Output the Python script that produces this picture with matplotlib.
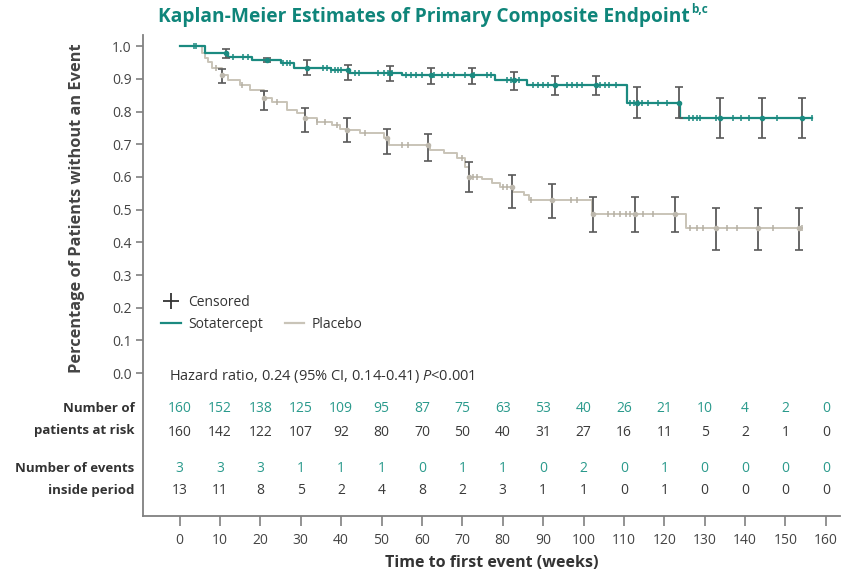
import numpy as np
import matplotlib
matplotlib.use('Agg')
import matplotlib.pyplot as plt
from matplotlib.lines import Line2D

# Kaplan-Meier steps (week, survival after the step)
sota_t = [0, 6.4, 12, 18, 25, 28.4, 37.4, 42, 55, 78, 86, 110.7, 124, 156.5]
sota_s = [1.0, 0.978, 0.967, 0.957, 0.947, 0.932, 0.927, 0.917, 0.911, 0.896, 0.881, 0.825, 0.781, 0.781]

plac_t = [0, 5.5, 6.4, 7, 8, 10.5, 12, 15, 17.5, 21, 23, 26.6, 29, 31, 34, 37.7, 39.8, 41.5, 44.7,
          50.5, 51.8, 62, 65.4, 68.7, 70.7, 71.6, 74.9, 77.3, 79.4, 82.5, 85.2, 86.4, 102.1, 125.3, 154]
plac_s = [1.0, 0.98, 0.965, 0.952, 0.932, 0.911, 0.896, 0.881, 0.865, 0.84, 0.83, 0.804, 0.794, 0.779,
          0.769, 0.758, 0.748, 0.743, 0.735, 0.718, 0.697, 0.682, 0.672, 0.657, 0.631, 0.60, 0.595,
          0.58, 0.57, 0.555, 0.544, 0.529, 0.488, 0.444, 0.444]

# 95% CI bars
sota_ci_t = [11.4, 21.6, 31.5, 41.7, 52.1, 62.3, 72.4, 82.8, 93, 103.1, 113.2, 123.7, 133.8, 144.2, 154.1]
sota_lo = [0.965, 0.95, 0.913, 0.896, 0.893, 0.883, 0.883, 0.865, 0.85, 0.85, 0.779, 0.779, 0.718, 0.718, 0.718]
sota_hi = [0.99, 0.965, 0.957, 0.942, 0.94, 0.932, 0.932, 0.921, 0.909, 0.909, 0.874, 0.874, 0.842, 0.842, 0.842]

plac_ci_t = [10.5, 21, 31, 41.5, 51.4, 61.5, 71.6, 82.3, 92.2, 102.3, 112.8, 122.7, 132.8, 143.3, 153.4]
plac_lo = [0.886, 0.804, 0.738, 0.707, 0.669, 0.648, 0.553, 0.506, 0.473, 0.432, 0.432, 0.432, 0.376, 0.376, 0.376]
plac_hi = [0.929, 0.862, 0.811, 0.781, 0.748, 0.73, 0.646, 0.606, 0.577, 0.539, 0.539, 0.539, 0.506, 0.506, 0.506]

# censored observations
sota_cens = [3.5, 4, 13.3, 15.8, 17, 25.7, 26.6, 27.4, 35.6, 36.5, 37.5, 38.5, 39.2, 40, 43.5, 44.3,
             49, 50.5, 51.5, 52.6, 56, 57.3, 58.6, 60, 63, 65, 66.5, 68, 70.7, 73, 76, 77, 81, 82, 84,
             87.5, 88.8, 90, 91.3, 96, 97.2, 98.5, 99.7, 104, 105.2, 106.4, 108, 111.6, 112.5, 113.5,
             114.5, 116, 118.5, 120.7, 126, 127, 128, 128.9, 132.7, 137, 139, 141, 148, 156.5]
plac_cens = [9, 15.5, 24, 34, 36, 39, 46, 55, 56.6, 70, 72.7, 73.7, 80, 81, 87, 97, 98.5, 106, 107.5,
             109, 110.5, 111.6, 114.8, 117.3, 126.4, 128, 129.6, 135.6, 138, 147, 154]

# risk table
table_weeks = [0, 10, 20, 30, 40, 50, 60, 70, 80, 90, 100, 110, 120, 130, 140, 150, 160]
sota_risk = [160, 152, 138, 125, 109, 95, 87, 75, 63, 53, 40, 26, 21, 10, 4, 2, 0]
plac_risk = [160, 142, 122, 107, 92, 80, 70, 50, 40, 31, 27, 16, 11, 5, 2, 1, 0]
sota_events = [3, 3, 3, 1, 1, 1, 0, 1, 1, 0, 2, 0, 1, 0, 0, 0, 0]
plac_events = [13, 11, 8, 5, 2, 4, 8, 2, 3, 1, 1, 0, 1, 0, 0, 0, 0]

TEAL = '#1b8a80'
BEIGE = '#c9c4b8'
DARK = '#3a3a3a'
AXIS = '#808080'
TEXT_TEAL = '#2a9a8c'

plt.rcParams['font.family'] = ['Open Sans', 'DejaVu Sans']
plt.rcParams['mathtext.fontset'] = 'custom'
plt.rcParams['mathtext.it'] = 'Open Sans:italic'
plt.rcParams['mathtext.rm'] = 'Open Sans'


def km_at(times, surv, x):
    idx = np.searchsorted(times, x, side='right') - 1
    return np.asarray(surv)[idx]


fig = plt.figure(figsize=(8.43, 5.72), dpi=100)
ax = fig.add_axes([143 / 843, 56 / 572, (840 - 143) / 843, (516 - 35) / 572])
ax.set_xlim(-9.06, 163.5)
ax.set_ylim(-0.437, 1.034)

# curves
ax.step(plac_t, plac_s, where='post', color=BEIGE, lw=1.4, zorder=2)
ax.step(sota_t, sota_s, where='post', color=TEAL, lw=1.6, zorder=3)

ax.plot(plac_cens, km_at(plac_t, plac_s, plac_cens), ls='none', marker='|', ms=5, mew=1.1,
        color='#b5b0a4', zorder=3)
ax.plot(sota_cens, km_at(sota_t, sota_s, sota_cens), ls='none', marker='|', ms=5, mew=1.1,
        color=TEAL, zorder=4)

for ci_t, lo, hi, tt, ss, mc in [(plac_ci_t, plac_lo, plac_hi, plac_t, plac_s, '#bdb8ad'),
                                 (sota_ci_t, sota_lo, sota_hi, sota_t, sota_s, TEAL)]:
    centre = km_at(tt, ss, ci_t)
    yerr = [centre - np.array(lo), np.array(hi) - centre]
    ax.errorbar(ci_t, centre, yerr=yerr, fmt='none', ecolor='#5a5a5a', elinewidth=1.3,
                capsize=3, capthick=1.2, zorder=5)
    ax.plot(ci_t, centre, ls='none', marker='o', ms=3, color=mc, zorder=6)

# axes styling
for side in ['top', 'right']:
    ax.spines[side].set_visible(False)
for side in ['left', 'bottom']:
    ax.spines[side].set_color(AXIS)
    ax.spines[side].set_linewidth(1.3)
ax.set_yticks(np.arange(0, 1.01, 0.1))
ax.set_yticklabels([f'{v:.1f}' for v in np.arange(0, 1.01, 0.1)])
ax.set_xticks(table_weeks)
ax.tick_params(axis='both', colors=AXIS, labelcolor='#444444', labelsize=10, width=1.2)
ax.tick_params(axis='y', length=5, pad=3)
ax.tick_params(axis='x', length=7, pad=5)
ax.set_ylabel('Percentage of Patients without an Event', fontsize=11.8, fontweight='bold',
              color='#444444')
ax.yaxis.set_label_coords(-0.083, 0.64)
ax.set_xlabel('Time to first event (weeks)', fontsize=11.5, fontweight='bold', color='#333333',
              labelpad=5)

# legend
cens_handle = Line2D([], [], ls='none', marker='+', ms=11, mew=1.3, color='#333333')
leg1 = ax.legend([cens_handle], ['Censored'], loc='center left', bbox_to_anchor=(-4.5, 0.215),
                 bbox_transform=ax.transData, frameon=False, fontsize=10, handlelength=1.4,
                 handletextpad=0.5, borderaxespad=0.0, borderpad=0.0, labelcolor='#333333')
ax.add_artist(leg1)
ax.legend([Line2D([], [], color=TEAL, lw=1.6), Line2D([], [], color=BEIGE, lw=1.6)],
          ['Sotatercept', 'Placebo'], loc='center left', bbox_to_anchor=(-4.5, 0.15),
          bbox_transform=ax.transData, ncol=2, frameon=False, fontsize=10, handlelength=1.4,
          handletextpad=0.5, columnspacing=1.6, borderaxespad=0.0, borderpad=0.0,
          labelcolor='#333333')

ax.text(-2.5, -0.01, r'Hazard ratio, 0.24 (95% CI, 0.14-0.41) $P$<0.001', fontsize=10.5,
        color='#333333', va='center')

# risk table
rows = [(sota_risk, -0.107, TEXT_TEAL), (plac_risk, -0.183, DARK),
        (sota_events, -0.291, TEXT_TEAL), (plac_events, -0.358, DARK)]
for vals, y, col in rows:
    for w, v in zip(table_weeks, vals):
        ax.text(w, y, str(v), ha='center', va='center', fontsize=10, color=col, clip_on=False)

lab = dict(ha='right', va='center', fontsize=9.5, fontweight='bold', color='#333333', clip_on=False)
ax.text(-11.2, -0.107, 'Number of', **lab)
ax.text(-11.2, -0.175, 'patients at risk', **lab)
ax.text(-11.2, -0.291, 'Number of events', **lab)
ax.text(-11.2, -0.358, 'inside period', **lab)

# title with superscript placed right after it
title = fig.text(158 / 843, 1 - 17 / 572, 'Kaplan-Meier Estimates of Primary Composite Endpoint',
                 fontsize=13.8, fontweight='bold', color='#0f857a', va='center', ha='left')
ax.annotate('b,c', xy=(1, 0.55), xycoords=title, xytext=(1, 0), textcoords='offset points',
            fontsize=8.5, fontweight='bold', color='#0f857a', va='bottom', ha='left',
            annotation_clip=False)

fig.savefig('out.png', dpi=100)
